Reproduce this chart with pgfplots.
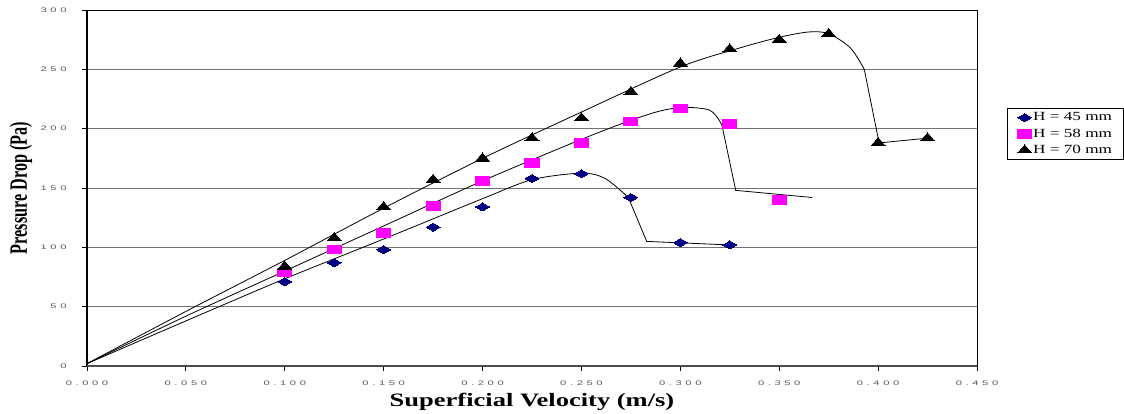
\documentclass[border=0pt]{standalone}
\usepackage{fontspec}
\usepackage{pgfplots}
\pgfplotsset{compat=1.18}
\setmainfont{Liberation Serif}
\newfontfamily\tickfont[FakeStretch=1.7,LetterSpace=55]{Liberation Sans}
\newfontfamily\xlabfont[FakeStretch=1.4]{Liberation Serif}
\newfontfamily\ylabfont[FakeStretch=0.65]{Liberation Serif}
\newfontfamily\legfont[FakeStretch=1.38]{Liberation Serif}
\definecolor{navyc}{RGB}{0,0,128}
\definecolor{magc}{RGB}{255,0,255}
\begin{document}
\begin{tikzpicture}
\useasboundingbox (-87bp,-48bp) rectangle (1037bp,366bp);
\begin{axis}[at={(0,0)},anchor=south west,
  scale only axis, width=890bp, height=356bp,
  xmin=0, xmax=0.45, ymin=0, ymax=300,
  xtick={0,0.05,0.1,0.15,0.2,0.25,0.3,0.35,0.4,0.45},
  xticklabels={0.000,0.050,0.100,0.150,0.200,0.250,0.300,0.350,0.400,0.450},
  ytick={0,50,100,150,200,250,300},
  yticklabels={0,50,100,150,200,250,300},
  xtick pos=bottom, ytick pos=left, tick align=outside,
  major tick length=5bp,
  tick style={black, line width=0.8bp},
  tick label style={font=\tickfont\fontsize{6.6}{7}\selectfont, text=black!65},
  xticklabel style={yshift=-6bp},
  yticklabel style={xshift=-12bp},
  ymajorgrids, major grid style={black!55, line width=0.8bp},
  axis line style={black, line width=0.9bp},
  xlabel={\xlabfont\bfseries Superficial Velocity (m/s)},
  xlabel style={at={(axis description cs:0.5,-0.1011)}, anchor=center, font=\fontsize{19}{20}\selectfont},
  ylabel={\ylabfont\bfseries Pressure Drop (Pa)},
  ylabel style={at={(axis description cs:-0.0742,0.5)}, anchor=center, font=\fontsize{25}{26}\selectfont},
  legend style={at={(axis description cs:1.034,0.725)}, anchor=north west,
    draw=black, line width=0.8bp, inner xsep=10bp, inner ysep=3bp, row sep=3.5bp,
    nodes={inner sep=1.5bp}, font=\legfont\fontsize{12.5}{14}\selectfont},
  legend cell align=left,
  clip=false,
]
% fitted curves
\addplot[black, line width=0.8bp, smooth, forget plot] coordinates {
 (0,2) (0.05,38) (0.1,73.5) (0.15,107) (0.2,141) (0.225,157) (0.25,162.5) (0.262,158) (0.2737,142)};
\addplot[black, line width=0.8bp, forget plot] coordinates {
 (0.2737,142) (0.283,105) (0.325,102)};
\addplot[black, line width=0.8bp, smooth, forget plot] coordinates {
 (0,2) (0.05,42) (0.1,80) (0.15,118) (0.2,156) (0.25,191) (0.275,207) (0.29,215) (0.302,218) (0.3146,215.7) (0.3197,207) (0.3212,201.6)};
\addplot[black, line width=0.8bp, forget plot] coordinates {
 (0.3212,201.6) (0.328,148) (0.3667,142)};
\addplot[black, line width=0.8bp, smooth, forget plot] coordinates {
 (0,2) (0.05,46) (0.1,89) (0.15,133) (0.2,175) (0.25,214) (0.3,252) (0.33,268) (0.35,277) (0.365,281.5) (0.375,280) (0.386,268) (0.393,250)};
\addplot[black, line width=0.8bp, forget plot] coordinates {
 (0.393,250) (0.4005,188) (0.425,192)};
% data
\addplot[only marks, mark=diamond*, mark size=4bp, navyc,
  mark options={xscale=2.3, fill=navyc, draw=navyc, line width=0pt}] coordinates {
 (0.1,71) (0.125,87) (0.15,98) (0.175,117) (0.2,134) (0.225,158) (0.25,162) (0.275,142) (0.3,104) (0.325,102)};
\addlegendentry{H = 45 mm}
\addplot[only marks, mark=square*, mark size=4.25bp, magc,
  mark options={xscale=1.65, fill=magc, draw=magc, line width=0pt}] coordinates {
 (0.1,79) (0.125,98) (0.15,112) (0.175,135) (0.2,156) (0.225,171) (0.25,188) (0.275,206) (0.3,217) (0.325,204) (0.35,140)};
\addlegendentry{H = 58 mm}
\addplot[only marks, mark=triangle*, mark size=5.4bp, black,
  mark options={xscale=1.5, fill=black, draw=black, line width=0pt}] coordinates {
 (0.1,84) (0.125,108) (0.15,134) (0.175,157) (0.2,175) (0.225,192) (0.25,209) (0.275,231) (0.3,255) (0.325,267) (0.35,275) (0.375,280) (0.4,188) (0.425,192)};
\addlegendentry{H = 70 mm}
\draw[black, line width=1.5bp] (axis cs:0,0) -- (axis cs:0,300);
\draw[black!70, line width=1.5bp] (axis cs:0,0) -- (axis cs:0.45,0);
\end{axis}
\end{tikzpicture}
\end{document}
